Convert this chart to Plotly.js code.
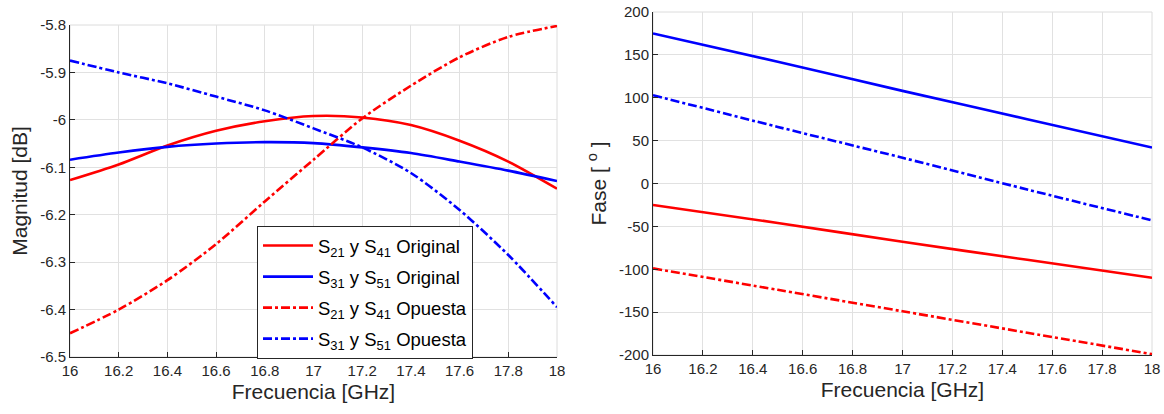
<!DOCTYPE html>
<html>
<head>
<meta charset="utf-8">
<script src="https://cdn.plot.ly/plotly-3.0.1.min.js"></script>
<style>html,body{margin:0;padding:0;background:#fff}#chart{width:1164px;height:414px}</style>
</head>
<body>
<div id="chart"></div>
<script>
// ---- data ----
const freqMag = [16, 16.2, 16.4, 16.6, 16.8, 17.0, 17.2, 17.4, 17.6, 17.8, 18.0];
const magS21Original = [-6.127, -6.094, -6.054, -6.023, -6.003, -5.992, -5.995, -6.011, -6.044, -6.088, -6.145];
const magS31Original = [-6.084, -6.069, -6.057, -6.050, -6.047, -6.049, -6.058, -6.070, -6.088, -6.107, -6.129];
const magS21Opuesta  = [-6.450, -6.400, -6.338, -6.262, -6.172, -6.084, -5.997, -5.928, -5.868, -5.825, -5.802];
const magS31Opuesta  = [-5.875, -5.900, -5.923, -5.951, -5.980, -6.018, -6.058, -6.112, -6.190, -6.285, -6.395];

const freqPhase = [16, 16.5, 17, 17.5, 18];
const phaseS21Original = [-25, -46, -68, -89, -110];
const phaseS31Original = [175, 142, 108, 75, 42];
const phaseS21Opuesta  = [-99, -124, -149, -174, -199];
const phaseS31Opuesta  = [103, 66, 30, -7, -43];

const xTickVals = [16, 16.2, 16.4, 16.6, 16.8, 17, 17.2, 17.4, 17.6, 17.8, 18];
const xTickText = ['16', '16.2', '16.4', '16.6', '16.8', '17', '17.2', '17.4', '17.6', '17.8', '18'];
const magTickVals = [-6.5, -6.4, -6.3, -6.2, -6.1, -6, -5.9, -5.8];
const magTickText = ['-6.5', '-6.4', '-6.3', '-6.2', '-6.1', '-6', '-5.9', '-5.8'];
const phaseTickVals = [-200, -150, -100, -50, 0, 50, 100, 150, 200];
const phaseTickText = ['-200', '-150', '-100', '-50', '0', '50', '100', '150', '200'];

const seriesNames = [
  'S<sub>21</sub> y S<sub>41</sub> Original',
  'S<sub>31</sub> y S<sub>51</sub> Original',
  'S<sub>21</sub> y S<sub>41</sub> Opuesta',
  'S<sub>31</sub> y S<sub>51</sub> Opuesta'
];

// ---- styling ----
const RED = '#FF0000', BLUE = '#0000FF';
const DD = '9px,3px,3px,3px';
const LW = 2.6;
const FONT = 'Arial, Liberation Sans, Helvetica, sans-serif';
const TXT = '#262626';

function tr(x, y, name, color, dash, xa, ya, show, grp) {
  return {x: x, y: y, name: name, type: 'scatter', mode: 'lines',
    line: {color: color, width: LW, dash: dash, shape: 'spline', smoothing: 0.8},
    xaxis: xa, yaxis: ya, showlegend: show, legendgroup: grp, hoverinfo: 'skip'};
}

const data = [
  tr(freqMag, magS21Original, seriesNames[0], RED, 'solid', 'x', 'y', true, 'g1'),
  tr(freqMag, magS31Original, seriesNames[1], BLUE, 'solid', 'x', 'y', true, 'g2'),
  tr(freqMag, magS21Opuesta, seriesNames[2], RED, DD, 'x', 'y', true, 'g3'),
  tr(freqMag, magS31Opuesta, seriesNames[3], BLUE, DD, 'x', 'y', true, 'g4'),
  tr(freqPhase, phaseS31Original, seriesNames[1], BLUE, 'solid', 'x2', 'y2', false, 'g2'),
  tr(freqPhase, phaseS31Opuesta, seriesNames[3], BLUE, DD, 'x2', 'y2', false, 'g4'),
  tr(freqPhase, phaseS21Original, seriesNames[0], RED, 'solid', 'x2', 'y2', false, 'g1'),
  tr(freqPhase, phaseS21Opuesta, seriesNames[2], RED, DD, 'x2', 'y2', false, 'g3')
];

function xax(domain, anchor) {
  return {domain: domain, anchor: anchor, range: [16, 18], tickmode: 'array',
    tickvals: xTickVals, ticktext: xTickText, ticks: 'inside', ticklen: 5, tickcolor: TXT,
    showline: true, linecolor: TXT, linewidth: 1, showgrid: true, gridcolor: '#e1e1e1',
    zeroline: false, automargin: false, tickfont: {family: FONT, size: 15, color: TXT},
    title: {text: 'Frecuencia [GHz]', font: {family: FONT, size: 21, color: TXT}, standoff: 6}};
}
function yax(domain, anchor, range, vals, text, title) {
  return {domain: domain, anchor: anchor, range: range, tickmode: 'array',
    tickvals: vals, ticktext: text, ticks: 'inside', ticklen: 5, tickcolor: TXT,
    showline: true, linecolor: TXT, linewidth: 1, showgrid: true, gridcolor: '#e1e1e1',
    zeroline: false, automargin: false, tickfont: {family: FONT, size: 15, color: TXT},
    title: {text: title, font: {family: FONT, size: 21, color: TXT}, standoff: 6}};
}

const layout = {
  width: 1164, height: 414,
  margin: {l: 0, r: 0, t: 0, b: 0},
  paper_bgcolor: '#fff', plot_bgcolor: '#fff',
  font: {family: FONT, color: TXT},
  xaxis: xax([70/1164, 557/1164], 'y'),
  yaxis: yax([1 - 357/414, 1 - 25/414], 'x', [-6.5, -5.8], magTickVals, magTickText, 'Magnitud [dB]'),
  xaxis2: xax([653/1164, 1152/1164], 'y2'),
  yaxis2: yax([1 - 355/414, 1 - 12/414], 'x2', [-200, 200], phaseTickVals, phaseTickText, 'Fase [ <sup>o</sup> ]'),
  shapes: [
    {type: 'rect', xref: 'x domain', yref: 'y domain', x0: 0, x1: 1, y0: 0, y1: 1,
      line: {color: '#dcdcdc', width: 1}, layer: 'below'},
    {type: 'rect', xref: 'x2 domain', yref: 'y2 domain', x0: 0, x1: 1, y0: 0, y1: 1,
      line: {color: '#dcdcdc', width: 1}, layer: 'below'}
  ],
  legend: {x: 257/1164, y: 1 - 226/414, xanchor: 'left', yanchor: 'top',
    bgcolor: '#ffffff', bordercolor: TXT, borderwidth: 1,
    font: {family: FONT, size: 18.5, color: '#000'}, itemwidth: 50, tracegroupgap: 4,
    traceorder: 'grouped'},
  showlegend: true
};

Plotly.newPlot('chart', data, layout, {staticPlot: true, displayModeBar: false});
</script>
</body>
</html>
